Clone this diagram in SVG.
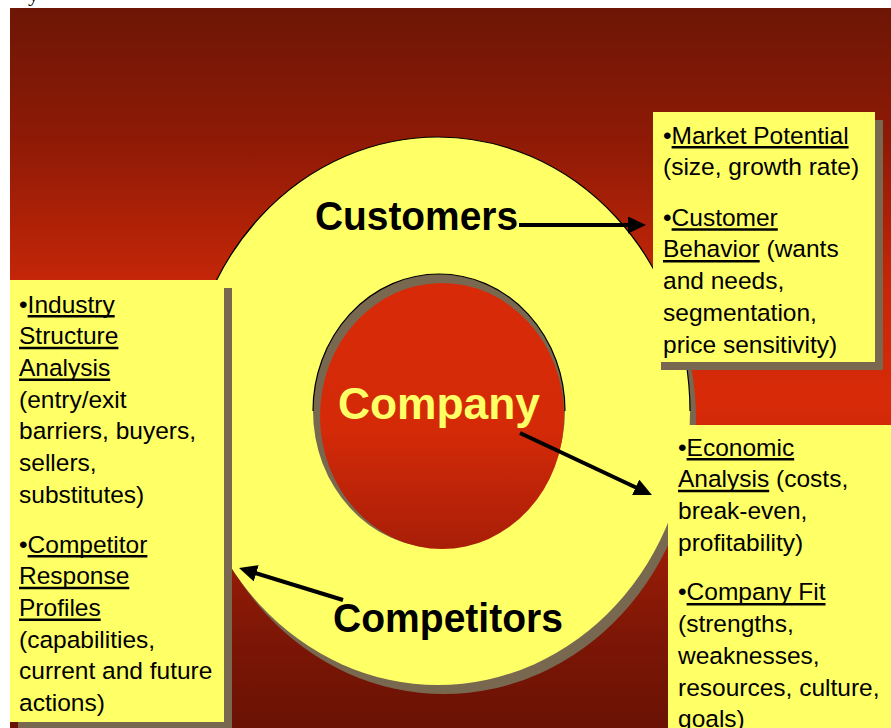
<svg xmlns="http://www.w3.org/2000/svg" width="891" height="728" viewBox="0 0 891 728">
  <defs>
    <linearGradient id="bg" gradientUnits="userSpaceOnUse" x1="0" y1="8" x2="0" y2="728">
      <stop offset="0" stop-color="#6e1606"/>
      <stop offset="0.183" stop-color="#8e1a06"/>
      <stop offset="0.392" stop-color="#c82708"/>
      <stop offset="0.544" stop-color="#d82a08"/>
      <stop offset="0.642" stop-color="#c82608"/>
      <stop offset="0.767" stop-color="#961c06"/>
      <stop offset="0.878" stop-color="#7c1606"/>
      <stop offset="1" stop-color="#6a1204"/>
    </linearGradient>
    <linearGradient id="core" gradientUnits="userSpaceOnUse" x1="0" y1="283" x2="0" y2="549">
      <stop offset="0" stop-color="#d82a08"/>
      <stop offset="0.55" stop-color="#d42a08"/>
      <stop offset="1" stop-color="#a81e08"/>
    </linearGradient>
    <marker id="arrow" markerUnits="userSpaceOnUse" markerWidth="18" markerHeight="17" refX="8" refY="8.5" orient="auto" viewBox="0 0 18 17">
      <path d="M0,0 L18,8.5 L0,17 Z" fill="#000"/>
    </marker>
    <style>
      .shadow { fill: #786850; }
      .box { fill: #ffff66; }
      .t { font-family: "Liberation Sans", Arial, sans-serif; font-size: 24.5px; fill: #000; }
      .big { font-family: "Liberation Sans", Arial, sans-serif; font-weight: bold; font-size: 41px; fill: #000; }
      .ul { stroke: #000; stroke-width: 2.5; }
      .conn { stroke: #000; stroke-width: 4; fill: none; marker-end: url(#arrow); }
      .rim { fill: none; stroke: #000; stroke-width: 1.2; }
    </style>
  </defs>

  <rect x="0" y="0" width="891" height="728" fill="#fff"/>
  <text x="28" y="1" font-family="Liberation Serif, serif" font-size="22" fill="#000">y</text>
  <rect id="background" x="10" y="8" width="881" height="720" fill="url(#bg)"/>

  <g id="customers">
    <ellipse cx="444" cy="420" rx="252" ry="274" class="shadow"/>
    <ellipse cx="438" cy="411" rx="252" ry="274" fill="#ffff66"/>
    <path class="rim" d="M186,411 A252,274 0 0 1 690,411"/>
    <text class="big" x="315" y="230" textLength="203" lengthAdjust="spacingAndGlyphs">Customers</text>
  </g>

  <g id="competitors">
    <text class="big" x="333" y="632" textLength="230" lengthAdjust="spacingAndGlyphs">Competitors</text>
  </g>

  <g id="company">
    <ellipse cx="439" cy="411" rx="126" ry="137" class="shadow"/>
    <path class="rim" d="M313,411 A126,137 0 0 1 565,411"/>
    <ellipse cx="442" cy="416" rx="122" ry="133" fill="url(#core)"/>
    <text x="338" y="419" font-family="Liberation Sans, Arial, sans-serif" font-weight="bold" font-size="44" fill="#ffff66" textLength="202" lengthAdjust="spacingAndGlyphs">Company</text>
  </g>

  <g id="box-customers">
    <rect x="661" y="120" width="222" height="250" class="shadow"/>
    <rect x="653" y="112" width="222" height="250" class="box"/>
    <text class="t" x="663" y="143.5">•Market Potential</text>
    <text class="t" x="663" y="175.2">(size, growth rate)</text>
    <text class="t" x="663" y="225.7">•Customer</text>
    <text class="t" x="663" y="257.4">Behavior (wants</text>
    <text class="t" x="663" y="289.1">and needs,</text>
    <text class="t" x="663" y="320.8">segmentation,</text>
    <text class="t" x="663" y="352.5">price sensitivity)</text>
    <line class="ul" x1="671.6" y1="147.3" x2="848.6" y2="147.3"/>
    <line class="ul" x1="671.6" y1="229.5" x2="777.8" y2="229.5"/>
    <line class="ul" x1="663" y1="261.2" x2="759.7" y2="261.2"/>
  </g>

  <g id="box-competitors">
    <rect x="18" y="288" width="214" height="450" class="shadow"/>
    <rect x="10" y="280" width="214" height="442" class="box"/>
    <text class="t" x="19" y="312.5">•Industry</text>
    <text class="t" x="19" y="344.2">Structure</text>
    <text class="t" x="19" y="375.9">Analysis</text>
    <text class="t" x="19" y="407.6">(entry/exit</text>
    <text class="t" x="19" y="439.3">barriers, buyers,</text>
    <text class="t" x="19" y="471">sellers,</text>
    <text class="t" x="19" y="502.7">substitutes)</text>
    <text class="t" x="19" y="552.5">•Competitor</text>
    <text class="t" x="19" y="584.2">Response</text>
    <text class="t" x="19" y="615.9">Profiles</text>
    <text class="t" x="19" y="647.6">(capabilities,</text>
    <text class="t" x="19" y="679.3">current and future</text>
    <text class="t" x="19" y="711">actions)</text>
    <line class="ul" x1="27.6" y1="316.3" x2="114.7" y2="316.3"/>
    <line class="ul" x1="19" y1="348" x2="118.4" y2="348"/>
    <line class="ul" x1="19" y1="379.7" x2="110.2" y2="379.7"/>
    <line class="ul" x1="27.6" y1="556.3" x2="147.4" y2="556.3"/>
    <line class="ul" x1="19" y1="588" x2="129.3" y2="588"/>
    <line class="ul" x1="19" y1="619.7" x2="100.7" y2="619.7"/>
  </g>

  <g id="box-company">
    <rect x="676" y="433" width="230" height="310" class="shadow"/>
    <rect x="668" y="425" width="230" height="310" class="box"/>
    <text class="t" x="678" y="455.5">•Economic</text>
    <text class="t" x="678" y="487.2">Analysis (costs,</text>
    <text class="t" x="678" y="518.9">break-even,</text>
    <text class="t" x="678" y="550.6">profitability)</text>
    <text class="t" x="678" y="600.4">•Company Fit</text>
    <text class="t" x="678" y="632.1">(strengths,</text>
    <text class="t" x="678" y="663.8">weaknesses,</text>
    <text class="t" x="678" y="695.5">resources, culture,</text>
    <text class="t" x="678" y="727.2">goals)</text>
    <line class="ul" x1="686.6" y1="459.3" x2="794.2" y2="459.3"/>
    <line class="ul" x1="678" y1="491" x2="769.2" y2="491"/>
    <line class="ul" x1="686.6" y1="604.2" x2="825.5" y2="604.2"/>
  </g>

  <g id="connectors">
    <line class="conn" x1="519" y1="225" x2="636" y2="225"/>
    <line class="conn" x1="520" y1="433" x2="642.9" y2="490.7"/>
    <line class="conn" x1="343" y1="600" x2="248.6" y2="570.9"/>
  </g>
</svg>
